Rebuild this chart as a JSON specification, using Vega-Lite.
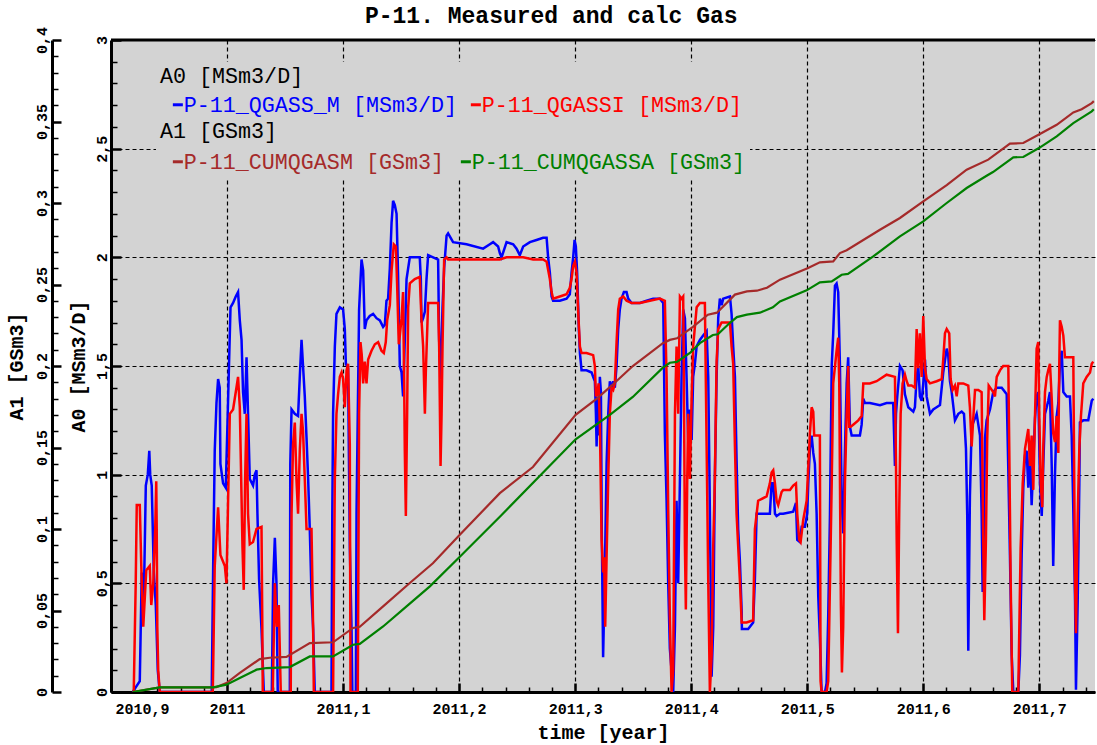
{
  "$schema": "https://vega.github.io/schema/vega-lite/v6.json",
  "width": 984,
  "height": 652,
  "autosize": {"type": "none"},
  "padding": {"left": 111, "top": 40, "right": 2, "bottom": 53},
  "background": "white",
  "title": {"text": "P-11. Measured and calc Gas", "font": "Liberation Mono", "fontSize": 23, "fontWeight": "bold", "color": "black", "anchor": "middle", "frame": "bounds", "offset": -2},
  "config": {
    "view": {"stroke": null, "fill": "#d3d3d3"},
    "font": "Liberation Mono",
    "axis": {
      "labelFont": "Liberation Mono", "labelFontSize": 15, "labelFontWeight": "bold", "labelColor": "black",
      "titleFont": "Liberation Mono", "titleFontSize": 20, "titleFontWeight": "bold", "titleColor": "black",
      "domainColor": "black", "domainWidth": 3, "tickColor": "black", "labelOverlap": false
    }
  },
  "datasets": {
    "qm": [
      {"t":2010.9187,"v":0},{"t":2010.9248,"v":0.05},{"t":2010.9265,"v":0.55},{"t":2010.9282,"v":0.4},{"t":2010.93,"v":0.95},{"t":2010.9317,"v":1.0},{"t":2010.933,"v":1.11},{"t":2010.9338,"v":1.0},{"t":2010.9351,"v":0.95},{"t":2010.9369,"v":0.55},{"t":2010.9386,"v":0.4},{"t":2010.9403,"v":0.1},{"t":2010.942,"v":0},
      {"t":2010.9868,"v":0},{"t":2010.9881,"v":0.6},{"t":2010.9894,"v":1.11},{"t":2010.9909,"v":1.33},{"t":2010.9923,"v":1.44},{"t":2010.9937,"v":1.4},{"t":2010.9943,"v":1.05},{"t":2010.9966,"v":0.96},{"t":2010.9989,"v":0.94},{"t":2011.0006,"v":1.28},{"t":2011.003,"v":1.77},{"t":2011.0052,"v":1.79},{"t":2011.0075,"v":1.82},{"t":2011.0095,"v":1.84},{"t":2011.011,"v":1.71},{"t":2011.0125,"v":1.62},{"t":2011.0138,"v":1.38},{"t":2011.0153,"v":1.28},{"t":2011.0168,"v":1.54},{"t":2011.0181,"v":1.28},{"t":2011.0196,"v":0.98},{"t":2011.0224,"v":0.95},{"t":2011.0239,"v":1.0},{"t":2011.0254,"v":1.02},{"t":2011.0262,"v":0.82},{"t":2011.0276,"v":0.52},{"t":2011.0297,"v":0.29},{"t":2011.0317,"v":0},{"t":2011.0386,"v":0},{"t":2011.0397,"v":0.5},{"t":2011.0412,"v":0.71},{"t":2011.0426,"v":0.5},{"t":2011.0437,"v":0},
      {"t":2011.0541,"v":0},{"t":2011.0545,"v":1.05},{"t":2011.0556,"v":1.3},{"t":2011.0584,"v":1.28},{"t":2011.0612,"v":1.27},{"t":2011.0627,"v":1.45},{"t":2011.0642,"v":1.62},{"t":2011.0655,"v":1.5},{"t":2011.067,"v":1.36},{"t":2011.0685,"v":1.17},{"t":2011.0699,"v":0.98},{"t":2011.0713,"v":0.75},{"t":2011.0728,"v":0.45},{"t":2011.0742,"v":0.29},{"t":2011.0756,"v":0},
      {"t":2011.09,"v":0},{"t":2011.0907,"v":0.82},{"t":2011.0914,"v":1.28},{"t":2011.0929,"v":1.59},{"t":2011.0943,"v":1.74},{"t":2011.0972,"v":1.77},{"t":2011.1,"v":1.76},{"t":2011.1015,"v":1.67},{"t":2011.1024,"v":1.51},{"t":2011.1043,"v":1.49},{"t":2011.1058,"v":0.67},{"t":2011.1073,"v":0.29},{"t":2011.108,"v":0},{"t":2011.111,"v":0},{"t":2011.1116,"v":0.82},{"t":2011.1138,"v":1.76},{"t":2011.1159,"v":1.99},{"t":2011.1173,"v":1.94},{"t":2011.1187,"v":1.67},{"t":2011.1202,"v":1.71},{"t":2011.123,"v":1.73},{"t":2011.1259,"v":1.74},{"t":2011.1288,"v":1.72},{"t":2011.1317,"v":1.71},{"t":2011.1345,"v":1.68},{"t":2011.136,"v":1.69},{"t":2011.1374,"v":1.8},{"t":2011.1388,"v":1.81},{"t":2011.1403,"v":1.95},{"t":2011.1418,"v":2.16},{"t":2011.1431,"v":2.26},{"t":2011.1446,"v":2.24},{"t":2011.1461,"v":2.2},{"t":2011.1474,"v":1.92},{"t":2011.1489,"v":1.5},{"t":2011.1504,"v":1.47},{"t":2011.1517,"v":1.36},{"t":2011.1532,"v":1.62},{"t":2011.1547,"v":1.9},{"t":2011.1575,"v":2.0},{"t":2011.1661,"v":2.0},{"t":2011.167,"v":1.9},{"t":2011.1676,"v":1.7},{"t":2011.169,"v":1.72},{"t":2011.1705,"v":1.75},{"t":2011.1719,"v":1.9},{"t":2011.1733,"v":2.01},{"t":2011.1776,"v":2.0},{"t":2011.1819,"v":1.99},{"t":2011.1828,"v":1.62},{"t":2011.184,"v":1.44},{"t":2011.1857,"v":1.77},{"t":2011.1871,"v":1.95},{"t":2011.1892,"v":2.1},{"t":2011.1905,"v":2.11},{"t":2011.1948,"v":2.07},{"t":2011.2064,"v":2.06},{"t":2011.2207,"v":2.04},{"t":2011.2265,"v":2.06},{"t":2011.2293,"v":2.07},{"t":2011.2336,"v":2.05},{"t":2011.2351,"v":2.02},{"t":2011.2366,"v":2.0},{"t":2011.2409,"v":2.07},{"t":2011.2466,"v":2.06},{"t":2011.2495,"v":2.04},{"t":2011.2523,"v":2.01},{"t":2011.2552,"v":2.05},{"t":2011.261,"v":2.07},{"t":2011.2667,"v":2.08},{"t":2011.2724,"v":2.09},{"t":2011.2754,"v":2.09},{"t":2011.2767,"v":2.0},{"t":2011.2782,"v":1.93},{"t":2011.2797,"v":1.82},{"t":2011.281,"v":1.8},{"t":2011.2868,"v":1.8},{"t":2011.2926,"v":1.81},{"t":2011.2954,"v":1.83},{"t":2011.2969,"v":1.93},{"t":2011.2983,"v":2.0},{"t":2011.2995,"v":2.08},{"t":2011.3006,"v":2.05},{"t":2011.3017,"v":1.93},{"t":2011.3032,"v":1.67},{"t":2011.3041,"v":1.56},{"t":2011.3055,"v":1.48},{"t":2011.3098,"v":1.48},{"t":2011.3142,"v":1.47},{"t":2011.3155,"v":1.45},{"t":2011.317,"v":1.43},{"t":2011.3179,"v":1.28},{"t":2011.3185,"v":1.13},{"t":2011.3193,"v":1.36},{"t":2011.3202,"v":1.18},{"t":2011.3213,"v":1.45},{"t":2011.3222,"v":1.38},{"t":2011.323,"v":0.72},{"t":2011.3241,"v":0.16},{"t":2011.3254,"v":0.5},{"t":2011.3271,"v":1.05},{"t":2011.3285,"v":1.28},{"t":2011.3299,"v":1.43},{"t":2011.3314,"v":1.4},{"t":2011.3328,"v":1.43},{"t":2011.3342,"v":1.4},{"t":2011.3357,"v":1.5},{"t":2011.3371,"v":1.67},{"t":2011.3385,"v":1.76},{"t":2011.34,"v":1.81},{"t":2011.342,"v":1.84},{"t":2011.3443,"v":1.84},{"t":2011.3457,"v":1.81},{"t":2011.3486,"v":1.79},{"t":2011.3558,"v":1.79},{"t":2011.3616,"v":1.8},{"t":2011.3672,"v":1.81},{"t":2011.373,"v":1.81},{"t":2011.3759,"v":1.79},{"t":2011.3773,"v":1.19},{"t":2011.3788,"v":0.88},{"t":2011.3802,"v":0.5},{"t":2011.3816,"v":0.2},{"t":2011.3845,"v":0},{"t":2011.386,"v":0.3},{"t":2011.3874,"v":0.88},{"t":2011.3888,"v":0.5},{"t":2011.3903,"v":0.98},{"t":2011.3917,"v":1.45},{"t":2011.3931,"v":1.76},{"t":2011.3946,"v":1.72},{"t":2011.396,"v":1.45},{"t":2011.3974,"v":1.16},{"t":2011.3989,"v":1.3},{"t":2011.4004,"v":1.16},{"t":2011.4017,"v":1.45},{"t":2011.4032,"v":1.51},{"t":2011.4047,"v":1.59},{"t":2011.4075,"v":1.62},{"t":2011.4103,"v":1.64},{"t":2011.4133,"v":1.66},{"t":2011.4147,"v":1.45},{"t":2011.4161,"v":0.83},{"t":2011.4176,"v":0.07},{"t":2011.419,"v":0.3},{"t":2011.4204,"v":0.98},{"t":2011.4219,"v":1.45},{"t":2011.4233,"v":1.72},{"t":2011.4247,"v":1.81},{"t":2011.4262,"v":1.78},{"t":2011.4276,"v":1.81},{"t":2011.4334,"v":1.82},{"t":2011.4348,"v":1.74},{"t":2011.4362,"v":1.59},{"t":2011.4377,"v":1.45},{"t":2011.4391,"v":1.07},{"t":2011.4405,"v":0.75},{"t":2011.442,"v":0.6},{"t":2011.4435,"v":0.37},{"t":2011.4437,"v":0.29},{"t":2011.4491,"v":0.29},{"t":2011.4534,"v":0.32},{"t":2011.4549,"v":0.52},{"t":2011.4564,"v":0.82},{"t":2011.4592,"v":0.82},{"t":2011.465,"v":0.82},{"t":2011.4678,"v":0.82},{"t":2011.4693,"v":0.96},{"t":2011.4707,"v":0.96},{"t":2011.4722,"v":0.82},{"t":2011.4736,"v":0.81},{"t":2011.4765,"v":0.82},{"t":2011.4793,"v":0.82},{"t":2011.4879,"v":0.83},{"t":2011.4903,"v":0.87},{"t":2011.4914,"v":0.7},{"t":2011.4937,"v":0.69},{"t":2011.4952,"v":0.76},{"t":2011.498,"v":0.76},{"t":2011.5,"v":0.82},{"t":2011.5009,"v":0.96},{"t":2011.5023,"v":1.12},{"t":2011.5038,"v":1.18},{"t":2011.5052,"v":1.1},{"t":2011.5066,"v":1.05},{"t":2011.5081,"v":0.82},{"t":2011.5095,"v":0.44},{"t":2011.5109,"v":0.25},{"t":2011.5124,"v":0},{"t":2011.5153,"v":0},{"t":2011.5167,"v":0.04},{"t":2011.5181,"v":0.35},{"t":2011.5196,"v":0.82},{"t":2011.5211,"v":1.5},{"t":2011.5224,"v":1.65},{"t":2011.5239,"v":1.87},{"t":2011.5253,"v":1.88},{"t":2011.5267,"v":1.84},{"t":2011.5282,"v":1.5},{"t":2011.5297,"v":0.88},{"t":2011.531,"v":0.73},{"t":2011.5325,"v":1.11},{"t":2011.534,"v":1.42},{"t":2011.5353,"v":1.54},{"t":2011.5368,"v":1.22},{"t":2011.5383,"v":1.18},{"t":2011.5396,"v":1.18},{"t":2011.5454,"v":1.18},{"t":2011.5469,"v":1.23},{"t":2011.5483,"v":1.35},{"t":2011.5497,"v":1.33},{"t":2011.554,"v":1.33},{"t":2011.5627,"v":1.32},{"t":2011.5684,"v":1.33},{"t":2011.5741,"v":1.33},{"t":2011.5756,"v":1.04},{"t":2011.5765,"v":1.28},{"t":2011.5776,"v":1.36},{"t":2011.5799,"v":1.5},{"t":2011.5822,"v":1.48},{"t":2011.5842,"v":1.37},{"t":2011.5871,"v":1.31},{"t":2011.5914,"v":1.29},{"t":2011.5928,"v":1.31},{"t":2011.5943,"v":1.45},{"t":2011.5957,"v":1.5},{"t":2011.5971,"v":1.36},{"t":2011.5986,"v":1.34},{"t":2011.6,"v":1.42},{"t":2011.6015,"v":1.53},{"t":2011.6029,"v":1.36},{"t":2011.6058,"v":1.28},{"t":2011.6086,"v":1.3},{"t":2011.6115,"v":1.31},{"t":2011.6144,"v":1.32},{"t":2011.6172,"v":1.47},{"t":2011.6202,"v":1.58},{"t":2011.6215,"v":1.55},{"t":2011.623,"v":1.43},{"t":2011.6245,"v":1.38},{"t":2011.6273,"v":1.25},{"t":2011.6302,"v":1.28},{"t":2011.6331,"v":1.29},{"t":2011.6351,"v":1.28},{"t":2011.6368,"v":1.12},{"t":2011.6379,"v":0.81},{"t":2011.6388,"v":0.19},{"t":2011.6402,"v":0.9},{"t":2011.6417,"v":1.22},{"t":2011.6446,"v":1.26},{"t":2011.646,"v":1.28},{"t":2011.6489,"v":1.18},{"t":2011.6503,"v":0.82},{"t":2011.6512,"v":0.46},{"t":2011.6523,"v":0.78},{"t":2011.6532,"v":1.17},{"t":2011.6546,"v":1.25},{"t":2011.6575,"v":1.3},{"t":2011.6603,"v":1.38},{"t":2011.6633,"v":1.4},{"t":2011.6676,"v":1.4},{"t":2011.6719,"v":1.37},{"t":2011.6733,"v":1.02},{"t":2011.6747,"v":0.63},{"t":2011.6762,"v":0.17},{"t":2011.6776,"v":0},{"t":2011.6819,"v":0},{"t":2011.6833,"v":0.17},{"t":2011.6848,"v":0.63},{"t":2011.6862,"v":0.94},{"t":2011.6877,"v":1.09},{"t":2011.6891,"v":1.11},{"t":2011.6905,"v":0.94},{"t":2011.692,"v":1.1},{"t":2011.6934,"v":0.86},{"t":2011.6948,"v":1.05},{"t":2011.6963,"v":1.26},{"t":2011.6977,"v":1.36},{"t":2011.6991,"v":1.38},{"t":2011.7006,"v":0.96},{"t":2011.7021,"v":0.81},{"t":2011.7034,"v":1.04},{"t":2011.7049,"v":1.28},{"t":2011.7064,"v":1.31},{"t":2011.7077,"v":1.34},{"t":2011.7092,"v":1.38},{"t":2011.7107,"v":1.04},{"t":2011.712,"v":0.58},{"t":2011.7135,"v":1.0},{"t":2011.715,"v":1.27},{"t":2011.7164,"v":1.33},{"t":2011.7178,"v":1.51},{"t":2011.7193,"v":1.57},{"t":2011.7207,"v":1.38},{"t":2011.7236,"v":1.36},{"t":2011.7264,"v":1.36},{"t":2011.7279,"v":1.18},{"t":2011.7293,"v":0.84},{"t":2011.7308,"v":0.42},{"t":2011.7316,"v":0.01},{"t":2011.7331,"v":0.42},{"t":2011.7345,"v":0.96},{"t":2011.735,"v":1.24},{"t":2011.7379,"v":1.25},{"t":2011.7422,"v":1.25},{"t":2011.7452,"v":1.34},{"t":2011.7465,"v":1.35}
    ],
    "qi": [
      {"t":2010.9196,"v":0},{"t":2010.9213,"v":0.5},{"t":2010.9222,"v":0.86},{"t":2010.9248,"v":0.86},{"t":2010.9261,"v":0.58},{"t":2010.9278,"v":0.3},{"t":2010.9304,"v":0.56},{"t":2010.9334,"v":0.58},{"t":2010.9347,"v":0.4},{"t":2010.9364,"v":0.5},{"t":2010.9381,"v":0.75},{"t":2010.939,"v":0.97},{"t":2010.9394,"v":0.75},{"t":2010.9399,"v":0.3},{"t":2010.9407,"v":0.1},{"t":2010.942,"v":0},
      {"t":2010.9877,"v":0},{"t":2010.9886,"v":0.3},{"t":2010.9894,"v":0.58},{"t":2010.9923,"v":0.85},{"t":2010.9943,"v":0.63},{"t":2010.9981,"v":0.58},{"t":2010.9995,"v":0.5},{"t":2011.0024,"v":1.28},{"t":2011.0052,"v":1.3},{"t":2011.0081,"v":1.4},{"t":2011.0095,"v":1.45},{"t":2011.011,"v":1.31},{"t":2011.0133,"v":0.67},{"t":2011.0144,"v":0.47},{"t":2011.0156,"v":0.98},{"t":2011.0168,"v":1.28},{"t":2011.0181,"v":0.82},{"t":2011.0196,"v":0.68},{"t":2011.0224,"v":0.69},{"t":2011.0254,"v":0.75},{"t":2011.0297,"v":0.76},{"t":2011.0304,"v":0.3},{"t":2011.0308,"v":0},{"t":2011.0394,"v":0},{"t":2011.0412,"v":0.5},{"t":2011.0429,"v":0.3},{"t":2011.0446,"v":0.4},{"t":2011.0463,"v":0},
      {"t":2011.0549,"v":0},{"t":2011.0556,"v":0.82},{"t":2011.0569,"v":1.14},{"t":2011.0584,"v":1.24},{"t":2011.0599,"v":0.97},{"t":2011.0612,"v":0.82},{"t":2011.0627,"v":1.11},{"t":2011.0642,"v":1.28},{"t":2011.0655,"v":1.2},{"t":2011.067,"v":0.98},{"t":2011.0685,"v":0.75},{"t":2011.0728,"v":0.75},{"t":2011.0742,"v":0.29},{"t":2011.0748,"v":0},
      {"t":2011.0914,"v":0},{"t":2011.0929,"v":0.98},{"t":2011.0943,"v":1.28},{"t":2011.0957,"v":1.37},{"t":2011.0972,"v":1.45},{"t":2011.0987,"v":1.47},{"t":2011.1,"v":1.44},{"t":2011.1015,"v":1.31},{"t":2011.103,"v":1.48},{"t":2011.1043,"v":1.51},{"t":2011.1058,"v":1.14},{"t":2011.1064,"v":0},{"t":2011.1127,"v":0},{"t":2011.1138,"v":1.28},{"t":2011.115,"v":1.61},{"t":2011.1161,"v":1.55},{"t":2011.1173,"v":1.42},{"t":2011.1187,"v":1.52},{"t":2011.1202,"v":1.42},{"t":2011.1216,"v":1.53},{"t":2011.1245,"v":1.57},{"t":2011.1274,"v":1.6},{"t":2011.1302,"v":1.61},{"t":2011.1331,"v":1.57},{"t":2011.1351,"v":1.56},{"t":2011.1368,"v":1.61},{"t":2011.138,"v":1.71},{"t":2011.1403,"v":1.78},{"t":2011.1418,"v":1.94},{"t":2011.1437,"v":2.06},{"t":2011.1455,"v":2.05},{"t":2011.1466,"v":1.87},{"t":2011.148,"v":1.6},{"t":2011.1489,"v":1.64},{"t":2011.1504,"v":1.72},{"t":2011.1517,"v":1.84},{"t":2011.1526,"v":1.45},{"t":2011.1532,"v":1.11},{"t":2011.1541,"v":0.81},{"t":2011.1552,"v":1.28},{"t":2011.1561,"v":1.77},{"t":2011.1575,"v":1.88},{"t":2011.1618,"v":1.9},{"t":2011.1661,"v":1.91},{"t":2011.1676,"v":1.71},{"t":2011.169,"v":1.59},{"t":2011.1705,"v":1.28},{"t":2011.1713,"v":1.47},{"t":2011.1733,"v":1.79},{"t":2011.1776,"v":1.79},{"t":2011.1819,"v":1.79},{"t":2011.1828,"v":1.59},{"t":2011.184,"v":1.04},{"t":2011.1849,"v":1.28},{"t":2011.1857,"v":1.59},{"t":2011.1871,"v":1.99},{"t":2011.1892,"v":2.0},{"t":2011.1905,"v":1.99},{"t":2011.2064,"v":1.99},{"t":2011.2351,"v":1.99},{"t":2011.2409,"v":2.0},{"t":2011.2552,"v":2.0},{"t":2011.2638,"v":1.99},{"t":2011.2724,"v":1.99},{"t":2011.2754,"v":1.98},{"t":2011.2782,"v":1.9},{"t":2011.2797,"v":1.84},{"t":2011.281,"v":1.81},{"t":2011.2868,"v":1.82},{"t":2011.2926,"v":1.83},{"t":2011.2954,"v":1.86},{"t":2011.2969,"v":1.9},{"t":2011.2983,"v":1.96},{"t":2011.2998,"v":1.98},{"t":2011.3012,"v":1.93},{"t":2011.3026,"v":1.75},{"t":2011.3041,"v":1.59},{"t":2011.3055,"v":1.56},{"t":2011.3098,"v":1.56},{"t":2011.3155,"v":1.55},{"t":2011.317,"v":1.5},{"t":2011.3179,"v":1.36},{"t":2011.3193,"v":1.38},{"t":2011.3202,"v":1.42},{"t":2011.3213,"v":1.23},{"t":2011.3228,"v":0.7},{"t":2011.3241,"v":0.55},{"t":2011.325,"v":0.62},{"t":2011.3259,"v":0.3},{"t":2011.3271,"v":0.62},{"t":2011.3285,"v":0.98},{"t":2011.3299,"v":1.28},{"t":2011.3314,"v":1.4},{"t":2011.3328,"v":1.39},{"t":2011.3342,"v":1.42},{"t":2011.3357,"v":1.61},{"t":2011.3371,"v":1.76},{"t":2011.3385,"v":1.81},{"t":2011.3414,"v":1.82},{"t":2011.3443,"v":1.8},{"t":2011.3486,"v":1.79},{"t":2011.3558,"v":1.79},{"t":2011.3644,"v":1.8},{"t":2011.373,"v":1.81},{"t":2011.3773,"v":1.8},{"t":2011.3788,"v":1.45},{"t":2011.3802,"v":0.84},{"t":2011.3816,"v":0.35},{"t":2011.3831,"v":0},{"t":2011.3845,"v":0.1},{"t":2011.386,"v":1.28},{"t":2011.3874,"v":1.59},{"t":2011.3888,"v":1.28},{"t":2011.3903,"v":1.82},{"t":2011.3917,"v":1.81},{"t":2011.3931,"v":1.82},{"t":2011.3937,"v":1.45},{"t":2011.3946,"v":0.67},{"t":2011.3954,"v":0.38},{"t":2011.3966,"v":0.98},{"t":2011.3974,"v":1.28},{"t":2011.3989,"v":0.98},{"t":2011.4004,"v":1.36},{"t":2011.4017,"v":1.59},{"t":2011.4047,"v":1.77},{"t":2011.4075,"v":1.79},{"t":2011.4118,"v":1.79},{"t":2011.4133,"v":1.13},{"t":2011.4147,"v":0.51},{"t":2011.4161,"v":0},{"t":2011.4176,"v":0.17},{"t":2011.419,"v":0.67},{"t":2011.4204,"v":0.98},{"t":2011.4219,"v":1.52},{"t":2011.4233,"v":1.67},{"t":2011.4262,"v":1.7},{"t":2011.4334,"v":1.7},{"t":2011.4348,"v":1.59},{"t":2011.4362,"v":1.51},{"t":2011.4377,"v":1.13},{"t":2011.4391,"v":0.82},{"t":2011.4405,"v":0.67},{"t":2011.442,"v":0.51},{"t":2011.4435,"v":0.32},{"t":2011.4477,"v":0.32},{"t":2011.4534,"v":0.33},{"t":2011.4549,"v":0.75},{"t":2011.4564,"v":0.82},{"t":2011.4577,"v":0.88},{"t":2011.465,"v":0.9},{"t":2011.4678,"v":0.96},{"t":2011.4693,"v":1.01},{"t":2011.4707,"v":1.02},{"t":2011.4722,"v":0.96},{"t":2011.4736,"v":0.88},{"t":2011.475,"v":0.86},{"t":2011.4779,"v":0.92},{"t":2011.4793,"v":0.93},{"t":2011.4851,"v":0.93},{"t":2011.4879,"v":0.95},{"t":2011.4903,"v":0.96},{"t":2011.4914,"v":0.82},{"t":2011.4931,"v":0.7},{"t":2011.4943,"v":0.69},{"t":2011.4965,"v":0.79},{"t":2011.4995,"v":0.88},{"t":2011.5023,"v":1.19},{"t":2011.5038,"v":1.31},{"t":2011.5052,"v":1.29},{"t":2011.506,"v":1.18},{"t":2011.5109,"v":1.18},{"t":2011.5115,"v":0.05},{"t":2011.5124,"v":0},{"t":2011.5167,"v":0},{"t":2011.5181,"v":0.05},{"t":2011.5196,"v":0.5},{"t":2011.5211,"v":0.96},{"t":2011.5224,"v":1.42},{"t":2011.5253,"v":1.57},{"t":2011.5267,"v":1.63},{"t":2011.5276,"v":1.42},{"t":2011.529,"v":0.4},{"t":2011.5299,"v":0.09},{"t":2011.531,"v":0.3},{"t":2011.5325,"v":0.96},{"t":2011.534,"v":1.28},{"t":2011.5353,"v":1.5},{"t":2011.5362,"v":1.22},{"t":2011.5374,"v":1.22},{"t":2011.5396,"v":1.23},{"t":2011.544,"v":1.25},{"t":2011.5469,"v":1.27},{"t":2011.5483,"v":1.42},{"t":2011.554,"v":1.42},{"t":2011.5598,"v":1.43},{"t":2011.5627,"v":1.44},{"t":2011.5684,"v":1.46},{"t":2011.5756,"v":1.45},{"t":2011.5765,"v":1.04},{"t":2011.5771,"v":0.7},{"t":2011.5782,"v":0.27},{"t":2011.5793,"v":0.84},{"t":2011.5805,"v":1.28},{"t":2011.5822,"v":1.42},{"t":2011.5842,"v":1.46},{"t":2011.5857,"v":1.43},{"t":2011.5871,"v":1.41},{"t":2011.59,"v":1.41},{"t":2011.5928,"v":1.4},{"t":2011.5943,"v":1.67},{"t":2011.5957,"v":1.49},{"t":2011.5971,"v":1.65},{"t":2011.5986,"v":1.45},{"t":2011.6,"v":1.73},{"t":2011.6015,"v":1.49},{"t":2011.6029,"v":1.44},{"t":2011.6058,"v":1.42},{"t":2011.6115,"v":1.43},{"t":2011.6159,"v":1.44},{"t":2011.6172,"v":1.53},{"t":2011.6187,"v":1.65},{"t":2011.6202,"v":1.67},{"t":2011.6224,"v":1.65},{"t":2011.6236,"v":1.44},{"t":2011.6253,"v":1.39},{"t":2011.6273,"v":1.41},{"t":2011.6288,"v":1.36},{"t":2011.6302,"v":1.42},{"t":2011.6345,"v":1.42},{"t":2011.6388,"v":1.41},{"t":2011.6402,"v":1.31},{"t":2011.6417,"v":1.13},{"t":2011.6431,"v":1.26},{"t":2011.6446,"v":1.39},{"t":2011.6474,"v":1.39},{"t":2011.6503,"v":1.38},{"t":2011.6517,"v":0.7},{"t":2011.6526,"v":0.33},{"t":2011.654,"v":0.7},{"t":2011.6551,"v":1.16},{"t":2011.6564,"v":1.41},{"t":2011.6603,"v":1.38},{"t":2011.6618,"v":1.36},{"t":2011.6633,"v":1.45},{"t":2011.6661,"v":1.48},{"t":2011.6689,"v":1.5},{"t":2011.6733,"v":1.5},{"t":2011.6741,"v":1.13},{"t":2011.6753,"v":0.52},{"t":2011.6767,"v":0},{"t":2011.6819,"v":0},{"t":2011.6827,"v":0.27},{"t":2011.6839,"v":0.66},{"t":2011.6857,"v":0.96},{"t":2011.6877,"v":1.12},{"t":2011.6905,"v":1.21},{"t":2011.692,"v":1.04},{"t":2011.6934,"v":1.18},{"t":2011.6948,"v":0.93},{"t":2011.6963,"v":1.27},{"t":2011.6977,"v":1.58},{"t":2011.6991,"v":1.61},{"t":2011.7,"v":1.27},{"t":2011.7012,"v":0.96},{"t":2011.7026,"v":0.85},{"t":2011.7034,"v":1.12},{"t":2011.7049,"v":1.38},{"t":2011.7064,"v":1.45},{"t":2011.7077,"v":1.48},{"t":2011.7092,"v":1.51},{"t":2011.7107,"v":1.35},{"t":2011.712,"v":1.19},{"t":2011.7135,"v":1.15},{"t":2011.715,"v":1.27},{"t":2011.7164,"v":1.1},{"t":2011.7172,"v":1.5},{"t":2011.7178,"v":1.71},{"t":2011.7193,"v":1.68},{"t":2011.7207,"v":1.64},{"t":2011.7221,"v":1.54},{"t":2011.7293,"v":1.54},{"t":2011.7299,"v":1.12},{"t":2011.7308,"v":0.5},{"t":2011.7316,"v":0.27},{"t":2011.7331,"v":0.81},{"t":2011.7345,"v":1.12},{"t":2011.7359,"v":1.27},{"t":2011.7379,"v":1.42},{"t":2011.7408,"v":1.45},{"t":2011.7437,"v":1.47},{"t":2011.7452,"v":1.51},{"t":2011.7465,"v":1.52}
    ],
    "cm": [
      {"t":2010.9187,"v":0},{"t":2010.942,"v":0.0028},{"t":2010.988,"v":0.0028},{"t":2010.9909,"v":0.003},{"t":2010.9995,"v":0.0055},{"t":2011.011,"v":0.0117},{"t":2011.0282,"v":0.0202},{"t":2011.0368,"v":0.021},{"t":2011.0512,"v":0.0215},{"t":2011.0713,"v":0.03},{"t":2011.0914,"v":0.0305},{"t":2011.1086,"v":0.0393},{"t":2011.1144,"v":0.04},{"t":2011.1345,"v":0.0525},{"t":2011.1575,"v":0.0669},{"t":2011.1774,"v":0.079},{"t":2011.2006,"v":0.0965},{"t":2011.2351,"v":0.122},{"t":2011.2636,"v":0.138},{"t":2011.3004,"v":0.17},{"t":2011.3187,"v":0.18},{"t":2011.3299,"v":0.187},{"t":2011.3497,"v":0.2},{"t":2011.3756,"v":0.214},{"t":2011.3816,"v":0.216},{"t":2011.3877,"v":0.217},{"t":2011.4015,"v":0.224},{"t":2011.4144,"v":0.2315},{"t":2011.4222,"v":0.2327},{"t":2011.4377,"v":0.2438},{"t":2011.448,"v":0.2458},{"t":2011.4566,"v":0.2462},{"t":2011.4653,"v":0.248},{"t":2011.4765,"v":0.253},{"t":2011.5003,"v":0.26},{"t":2011.5109,"v":0.2636},{"t":2011.5224,"v":0.2642},{"t":2011.5282,"v":0.2693},{"t":2011.534,"v":0.271},{"t":2011.5627,"v":0.2836},{"t":2011.5799,"v":0.2908},{"t":2011.6,"v":0.301},{"t":2011.6202,"v":0.311},{"t":2011.6374,"v":0.3204},{"t":2011.656,"v":0.3266},{"t":2011.6747,"v":0.3364},{"t":2011.6862,"v":0.3368},{"t":2011.6997,"v":0.342},{"t":2011.715,"v":0.348},{"t":2011.7293,"v":0.3556},{"t":2011.7365,"v":0.3575},{"t":2011.7452,"v":0.3613},{"t":2011.747,"v":0.3625}
    ],
    "ca": [
      {"t":2010.9187,"v":0},{"t":2010.942,"v":0.0028},{"t":2010.988,"v":0.0028},{"t":2010.9995,"v":0.0045},{"t":2011.011,"v":0.0086},{"t":2011.0254,"v":0.0137},{"t":2011.034,"v":0.0147},{"t":2011.0541,"v":0.0153},{"t":2011.0713,"v":0.0218},{"t":2011.0914,"v":0.0218},{"t":2011.1086,"v":0.029},{"t":2011.1144,"v":0.0295},{"t":2011.1345,"v":0.0402},{"t":2011.1547,"v":0.0525},{"t":2011.1748,"v":0.0648},{"t":2011.2006,"v":0.083},{"t":2011.2351,"v":0.1075},{"t":2011.3004,"v":0.155},{"t":2011.3299,"v":0.17},{"t":2011.3497,"v":0.181},{"t":2011.3756,"v":0.199},{"t":2011.3816,"v":0.202},{"t":2011.3877,"v":0.2025},{"t":2011.3989,"v":0.208},{"t":2011.4075,"v":0.214},{"t":2011.4187,"v":0.219},{"t":2011.423,"v":0.2195},{"t":2011.4334,"v":0.2265},{"t":2011.4394,"v":0.23},{"t":2011.448,"v":0.2315},{"t":2011.4592,"v":0.2327},{"t":2011.4704,"v":0.236},{"t":2011.4765,"v":0.2396},{"t":2011.4995,"v":0.2464},{"t":2011.5109,"v":0.2513},{"t":2011.5211,"v":0.2519},{"t":2011.5297,"v":0.256},{"t":2011.5351,"v":0.2565},{"t":2011.5569,"v":0.2672},{"t":2011.5799,"v":0.2795},{"t":2011.6,"v":0.2887},{"t":2011.6202,"v":0.3},{"t":2011.6374,"v":0.3092},{"t":2011.6546,"v":0.3167},{"t":2011.6601,"v":0.319},{"t":2011.6776,"v":0.328},{"t":2011.6862,"v":0.3282},{"t":2011.6997,"v":0.3337},{"t":2011.715,"v":0.3409},{"t":2011.7293,"v":0.349},{"t":2011.7452,"v":0.3562},{"t":2011.747,"v":0.3575}
    ]
  },
  "layer": [
    {
      "layer": [
        {
          "data": {"name": "qm"},
          "mark": {"type": "line", "strokeWidth": 2.5, "clip": true},
          "encoding": {
            "x": {"field": "t", "type": "quantitative", "scale": {"domain": [2010.9, 2011.748], "nice": false, "zero": false},
              "axis": {
                "title": "time [year]", "titlePadding": 2, "labelOverlap": false, "tickCount": 200,
                "values": [2010.9,2010.92,2010.94,2010.96,2010.98,2011,2011.02,2011.04,2011.06,2011.08,2011.1,2011.12,2011.14,2011.16,2011.18,2011.2,2011.22,2011.24,2011.26,2011.28,2011.3,2011.32,2011.34,2011.36,2011.38,2011.4,2011.42,2011.44,2011.46,2011.48,2011.5,2011.52,2011.54,2011.56,2011.58,2011.6,2011.62,2011.64,2011.66,2011.68,2011.7,2011.72,2011.74],
                "labelExpr": "round(datum.value*100) % 10 == 0 ? replace(format(datum.value, '.2~f'), '.', ',') : ''",
                "labelFlush": true, "labelFlushOffset": -4, "labelPadding": 18,
                "grid": true, "gridColor": "black", "gridDash": [4, 3], "gridWidth": 1.2,
                "gridOpacity": {"condition": {"test": "round(datum.value*100) % 10 == 0", "value": 1}, "value": 0},
                "tickSize": {"condition": {"test": "round(datum.value*100) % 10 == 0", "value": -9}, "value": -5},
                "tickWidth": {"condition": {"test": "round(datum.value*100) % 10 == 0", "value": 2.5}, "value": 1.5}
              }
            },
            "y": {"field": "v", "type": "quantitative", "scale": {"domain": [0, 3], "nice": false, "zero": false},
              "axis": {
                "title": "A0 [MSm3/D]", "titlePadding": 2, "labelOverlap": false, "tickCount": 200,
                "values": [0,0.1,0.2,0.3,0.4,0.5,0.6,0.7,0.8,0.9,1,1.1,1.2,1.3,1.4,1.5,1.6,1.7,1.8,1.9,2,2.1,2.2,2.3,2.4,2.5,2.6,2.7,2.8,2.9,3],
                "labelExpr": "round(datum.value*10) % 5 == 0 ? replace(format(datum.value, '.2~f'), '.', ',') : ''",
                "labelAngle": 270, "labelPadding": 12,
                "grid": true, "gridColor": "black", "gridDash": [4, 3], "gridWidth": 1.2,
                "gridOpacity": {"condition": {"test": "round(datum.value*10) % 5 == 0", "value": 1}, "value": 0},
                "tickSize": {"condition": {"test": "round(datum.value*10) % 5 == 0", "value": -10}, "value": -6},
                "tickWidth": {"condition": {"test": "round(datum.value*10) % 5 == 0", "value": 2.5}, "value": 1.5}
              }
            },
            "color": {"datum": "P-11_QGASS_M [MSm3/D]",
              "scale": {"domain": ["P-11_QGASS_M [MSm3/D]", "P-11_QGASSI [MSm3/D]"], "range": ["#0000ff", "#ff0000"]},
              "legend": {
                "orient": "none", "legendX": 45, "legendY": 22, "direction": "horizontal",
                "title": "A0 [MSm3/D]", "titleFont": "Liberation Mono", "titleFontSize": 21.7, "titleFontWeight": "normal", "titleColor": "black", "titlePadding": 6, "titleAnchor": "start",
                "labelFont": "Liberation Mono", "labelFontSize": 21.7, "labelLimit": 500, "labelOffset": -5,
                "labelColor": {"expr": "datum.value == 'P-11_QGASS_M [MSm3/D]' ? '#0000ff' : '#ff0000'"},
                "symbolType": "stroke", "symbolSize": 100, "symbolStrokeWidth": 3, "symbolOffset": 7,
                "columnPadding": 0, "padding": 4, "fillColor": "#d3d3d3", "strokeColor": null
              }
            }
          }
        },
        {
          "data": {"name": "qi"},
          "mark": {"type": "line", "strokeWidth": 2.5, "clip": true},
          "encoding": {
            "x": {"field": "t", "type": "quantitative"},
            "y": {"field": "v", "type": "quantitative"},
            "color": {"datum": "P-11_QGASSI [MSm3/D]"}
          }
        },
        {
          "data": {"values": [{}]},
          "mark": {"type": "rule", "color": "black", "strokeWidth": 3},
          "encoding": {"y": {"datum": 3}}
        }
      ]
    },
    {
      "layer": [
        {
          "data": {"name": "cm"},
          "mark": {"type": "line", "strokeWidth": 2.2, "clip": true},
          "encoding": {
            "x": {"field": "t", "type": "quantitative"},
            "y": {"field": "v", "type": "quantitative", "scale": {"domain": [0, 0.4], "nice": false, "zero": false},
              "axis": {
                "orient": "left", "offset": 59, "labelOverlap": false, "tickCount": 200,
                "title": "A1 [GSm3]", "titlePadding": 5,
                "values": [0,0.01,0.02,0.03,0.04,0.05,0.06,0.07,0.08,0.09,0.1,0.11,0.12,0.13,0.14,0.15,0.16,0.17,0.18,0.19,0.2,0.21,0.22,0.23,0.24,0.25,0.26,0.27,0.28,0.29,0.3,0.31,0.32,0.33,0.34,0.35,0.36,0.37,0.38,0.39,0.4],
                "labelExpr": "round(datum.value*100) % 5 == 0 ? replace(format(datum.value, '.2~f'), '.', ',') : ''",
                "labelAngle": 270, "labelPadding": 12,
                "grid": false,
                "tickSize": {"condition": {"test": "round(datum.value*100) % 5 == 0", "value": -9}, "value": -6},
                "tickWidth": {"condition": {"test": "round(datum.value*100) % 5 == 0", "value": 2.5}, "value": 1.5}
              }
            },
            "color": {"datum": "P-11_CUMQGASM [GSm3]",
              "scale": {"domain": ["P-11_CUMQGASM [GSm3]", "P-11_CUMQGASSA [GSm3]"], "range": ["#a52a2a", "#008000"]},
              "legend": {
                "orient": "none", "legendX": 45, "legendY": 77, "direction": "horizontal",
                "title": "A1 [GSm3]", "titleFont": "Liberation Mono", "titleFontSize": 21.7, "titleFontWeight": "normal", "titleColor": "black", "titlePadding": 8, "titleAnchor": "start",
                "labelFont": "Liberation Mono", "labelFontSize": 21.7, "labelLimit": 500, "labelOffset": -5,
                "labelColor": {"expr": "datum.value == 'P-11_CUMQGASM [GSm3]' ? '#a52a2a' : '#008000'"},
                "symbolType": "stroke", "symbolSize": 100, "symbolStrokeWidth": 3, "symbolOffset": 7,
                "columnPadding": 4, "padding": 4, "fillColor": "#d3d3d3", "strokeColor": null
              }
            }
          }
        },
        {
          "data": {"name": "ca"},
          "mark": {"type": "line", "strokeWidth": 2.2, "clip": true},
          "encoding": {
            "x": {"field": "t", "type": "quantitative"},
            "y": {"field": "v", "type": "quantitative"},
            "color": {"datum": "P-11_CUMQGASSA [GSm3]"}
          }
        }
      ]
    }
  ],
  "resolve": {"scale": {"y": "independent", "color": "independent"}, "axis": {"y": "independent"}, "legend": {"color": "independent"}}
}
